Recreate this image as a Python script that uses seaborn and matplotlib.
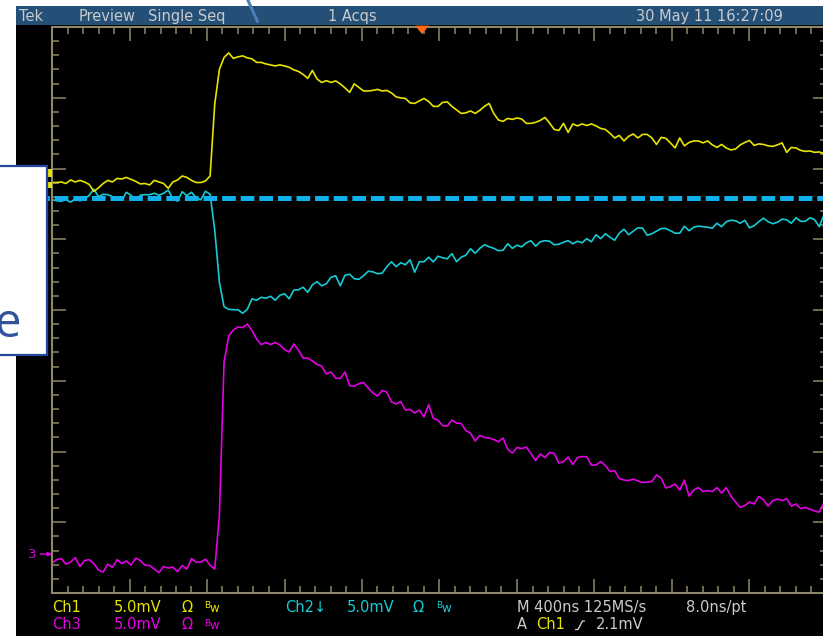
import numpy as np
import pandas as pd
import matplotlib
matplotlib.use("Agg")
import matplotlib.pyplot as plt
from matplotlib.lines import Line2D
from matplotlib.patches import Rectangle, Polygon
from matplotlib.ticker import MultipleLocator
import seaborn as sns

# ---------------------------------------------------------------------------
# Acquisition settings
# ---------------------------------------------------------------------------
TIME_PER_DIV_NS = 400          # M 400ns
MV_PER_DIV = 5.0               # 5.0 mV/div on every channel
SAMPLE_NS = 24                 # one plotted point every 3rd record point (8 ns/pt)
trigger_pos_ns = 1910          # horizontal position marker

# channel ground positions, in divisions from screen centre
ch1_pos_div = 1.81
ch2_pos_div = 1.58
ch3_pos_div = -3.45

# ---------------------------------------------------------------------------
# Waveforms (mV relative to each channel's ground)
# ---------------------------------------------------------------------------
ch1_mv = [
    -0.04, -0.04, 0.00, -0.11, 0.14, 0.00, 0.11, 0.00, -0.18, -0.67,
    -0.42, -0.11, 0.11, 0.00, 0.25, 0.21, 0.32, 0.18, 0.04, -0.14,
    -0.11, -0.21, 0.11, 0.00, -0.11, -0.45, 0.00, 0.14, 0.42, 0.32,
    0.11, -0.04, -0.04, 0.07, 0.42, 5.51, 7.95, 8.80, 9.12, 8.73,
    8.84, 8.91, 8.77, 8.70, 8.45, 8.45, 8.34, 8.27, 8.20, 8.27,
    8.20, 8.10, 7.92, 7.81, 7.60, 7.32, 7.88, 7.28, 7.03, 7.16,
    7.03, 7.14, 6.93, 6.65, 6.33, 6.93, 6.68, 6.43, 6.43, 6.47,
    6.54, 6.43, 6.47, 6.29, 6.01, 5.94, 5.90, 5.59, 5.55, 5.73,
    5.90, 5.69, 5.34, 5.34, 5.62, 5.66, 5.34, 5.09, 4.84, 4.88,
    5.02, 4.84, 5.06, 5.34, 5.55, 4.84, 4.38, 4.28, 4.49, 4.42,
    4.52, 4.45, 4.14, 4.14, 4.21, 4.35, 4.56, 4.17, 3.71, 3.64,
    4.14, 3.50, 4.10, 3.96, 4.10, 3.99, 4.10, 3.96, 3.78, 3.71,
    3.44, 3.11, 3.29, 2.90, 3.22, 3.39, 3.11, 3.36, 3.36, 3.11,
    2.65, 3.15, 3.08, 2.76, 2.40, 3.11, 2.55, 2.79, 2.90, 2.90,
    2.76, 2.90, 2.62, 2.44, 2.65, 2.40, 2.26, 2.33, 2.62, 2.79,
    2.93, 2.58, 2.69, 2.65, 2.55, 2.51, 2.62, 2.76, 2.09, 2.44,
    2.40, 2.23, 2.16, 2.19, 2.09, 2.12, 2.01,
]
ch2_mv = [
    -0.11, -0.18, -0.21, -0.11, -0.28, -0.04, -0.18, -0.07, 0.21, 0.64,
    0.11, 0.28, 0.25, 0.11, -0.14, -0.14, 0.42, 0.21, -0.14, 0.21,
    0.25, 0.25, 0.35, 0.21, 0.35, 0.57, -0.04, -0.21, 0.46, 0.18,
    0.42, 0.04, -0.11, 0.49, 0.28, -2.26, -5.94, -7.67, -7.85, -7.88,
    -7.88, -8.13, -7.85, -7.11, -7.21, -7.00, -7.07, -6.93, -7.21, -6.86,
    -6.75, -7.11, -6.50, -6.47, -6.29, -6.65, -6.12, -5.90, -6.19, -6.04,
    -5.59, -5.48, -6.19, -5.44, -5.37, -5.69, -5.73, -5.48, -5.16, -5.20,
    -5.34, -5.30, -4.84, -4.49, -4.84, -4.56, -4.70, -4.35, -5.23, -4.49,
    -4.49, -4.17, -4.50, -4.10, -4.21, -4.28, -3.92, -4.49, -4.17, -4.03,
    -3.57, -3.89, -3.54, -3.29, -3.43, -3.54, -3.71, -3.68, -3.22, -3.54,
    -3.32, -3.44, -3.15, -3.00, -3.39, -3.08, -3.00, -3.04, -3.29, -3.25,
    -3.11, -3.00, -3.22, -3.04, -3.15, -2.86, -3.08, -2.58, -2.86, -2.51,
    -2.76, -2.97, -2.47, -2.19, -2.58, -2.33, -2.09, -2.12, -2.62, -2.51,
    -2.33, -2.14, -2.14, -2.30, -2.47, -2.47, -1.98, -2.30, -2.05, -1.98,
    -2.01, -2.05, -2.12, -1.77, -2.01, -1.66, -1.56, -1.59, -1.77, -1.56,
    -2.09, -1.94, -1.66, -1.41, -1.66, -1.80, -1.70, -1.48, -1.52, -1.77,
    -1.38, -1.63, -1.63, -1.38, -1.52, -2.01, -1.20,
]
ch3_mv = [
    -0.64, -0.39, -0.32, -0.71, -0.57, -0.25, -0.88, -0.46, -0.39, -0.67,
    -1.13, -1.27, -0.71, -0.95, -0.39, -0.66, -0.49, -0.78, -0.28, -0.46,
    -0.78, -0.81, -1.06, -1.31, -0.88, -0.99, -0.92, -1.24, -0.81, -1.06,
    -0.32, -0.57, -0.57, -0.35, -0.78, -1.06, 2.76, 13.57, 15.41, 15.84,
    16.05, 16.01, 16.26, 15.80, 15.20, 14.81, 14.95, 14.81, 14.95, 14.78,
    14.46, 14.28, 14.85, 14.42, 13.86, 13.84, 13.65, 13.40, 13.29, 12.73,
    12.87, 12.44, 12.41, 12.87, 11.91, 11.86, 12.05, 12.12, 11.74, 11.38,
    11.17, 11.56, 11.45, 10.75, 10.61, 10.78, 10.18, 10.23, 9.97, 10.18,
    9.69, 10.57, 9.59, 9.47, 9.08, 9.05, 9.47, 9.26, 9.23, 8.73,
    8.55, 7.99, 8.39, 8.24, 8.20, 8.10, 7.94, 8.20, 7.42, 7.14,
    7.53, 7.46, 7.56, 7.11, 6.61, 7.07, 6.82, 7.18, 7.11, 6.43,
    6.54, 6.86, 6.33, 6.82, 6.89, 6.88, 6.29, 6.29, 6.54, 6.26,
    5.83, 5.90, 5.34, 5.23, 5.20, 5.30, 5.16, 5.06, 5.09, 5.13,
    5.59, 5.37, 4.67, 4.77, 4.95, 4.52, 5.23, 4.10, 4.52, 4.70,
    4.42, 4.49, 4.42, 4.70, 4.31, 4.70, 4.10, 3.68, 3.30, 3.43,
    3.68, 3.54, 4.07, 3.85, 3.39, 3.78, 3.89, 3.78, 3.92, 3.39,
    3.54, 3.22, 3.29, 3.18, 3.04, 2.97, 3.64,
]

channel_names = ["Ch3", "Ch2", "Ch1"]
channel_colors = {"Ch1": "#e6e400", "Ch2": "#16ccd4", "Ch3": "#e400e4"}
GRATICULE = "#8f8769"
TEXT_GREY = "#c9cbcd"
BAR_BLUE = "#244f77"
REF_BLUE = "#0fb0ec"
NOTE_BLUE = "#23479c"

# ---------------------------------------------------------------------------
# Figure in pixel units
# ---------------------------------------------------------------------------
W, H = 823, 636
sns.set_theme(style="dark")
plt.rcParams["font.family"] = ["DejaVu Sans"]

fig = plt.figure(figsize=(W / 100, H / 100), dpi=100, facecolor="white")


def fx(x):
    return x / W


def fy(y):
    return 1 - y / H


# screen background and status bar
fig.add_artist(Rectangle((fx(16), 0), 1 - fx(16), fy(6), transform=fig.transFigure,
                         facecolor="black", edgecolor="none", zorder=-10))
fig.add_artist(Rectangle((fx(16), fy(25)), 1 - fx(16), fy(6) - fy(25),
                         transform=fig.transFigure, facecolor=BAR_BLUE,
                         edgecolor="none", zorder=-9))

ax = fig.add_axes([fx(52), fy(593), (827 - 52) / W, (593 - 27) / H])
ax.set_facecolor("black")

# ---------------------------------------------------------------------------
# Traces
# ---------------------------------------------------------------------------
series = {"Ch1": (ch1_mv, ch1_pos_div), "Ch2": (ch2_mv, ch2_pos_div),
          "Ch3": (ch3_mv, ch3_pos_div)}
frames = []
for name in channel_names:
    mv, pos = series[name]
    mv = np.asarray(mv, dtype=float)
    frames.append(pd.DataFrame({
        "time_ns": np.arange(len(mv)) * SAMPLE_NS,
        "level_div": pos + mv / MV_PER_DIV,
        "channel": name,
    }))
df = pd.concat(frames, ignore_index=True)

sns.lineplot(data=df, x="time_ns", y="level_div", hue="channel",
             hue_order=channel_names, palette=channel_colors, estimator=None,
             sort=False, legend=False, linewidth=1.2, ax=ax)

ax.set_xlim(0, 10 * TIME_PER_DIV_NS)
ax.set_ylim(-4, 4)
ax.set_xlabel("")
ax.set_ylabel("")
ax.grid(False)
ax.xaxis.set_major_locator(MultipleLocator(TIME_PER_DIV_NS))
ax.xaxis.set_minor_locator(MultipleLocator(TIME_PER_DIV_NS / 5))
ax.yaxis.set_major_locator(MultipleLocator(1))
ax.yaxis.set_minor_locator(MultipleLocator(0.2))
ax.tick_params(which="both", direction="in", top=True, right=True, bottom=True,
               left=True, labelbottom=False, labelleft=False, color=GRATICULE,
               width=1.1)
ax.tick_params(which="major", length=10)
ax.tick_params(which="minor", length=5)
for sp in ax.spines.values():
    sp.set_visible(True)
    sp.set_color(GRATICULE)
    sp.set_linewidth(1.5)

# dashed reference line at the Ch2 baseline
ax.axhline(ch2_pos_div, xmin=(17 - 52) / 775, xmax=1, color=REF_BLUE, lw=3.6,
           linestyle=(0, (2.74, 0.98)), clip_on=False, zorder=5)

# horizontal position marker
ax.add_patch(Polygon([[trigger_pos_ns - 36, 4.02], [trigger_pos_ns + 36, 4.02],
                      [trigger_pos_ns, 3.9]], closed=True, facecolor="#ff6a1a",
                     edgecolor="none", clip_on=False, zorder=6))

# Ch3 ground marker
ax.annotate("", xy=(0, ch3_pos_div), xycoords=("axes fraction", "data"),
            xytext=(-8.6, 0), textcoords="offset points",
            arrowprops=dict(arrowstyle="-|>", color=channel_colors["Ch3"], lw=1.0,
                            mutation_scale=6, shrinkA=0, shrinkB=0),
            annotation_clip=False)
ax.annotate("3", xy=(0, ch3_pos_div), xycoords=("axes fraction", "data"),
            xytext=(-11.3, 0), textcoords="offset points", ha="right", va="center",
            color=channel_colors["Ch3"], fontsize=9.5, annotation_clip=False)

# Ch1 ground marker (mostly behind the note box)
for y0, y1 in [(169.3, 176.7), (181.7, 188.3)]:
    fig.add_artist(Rectangle((fx(47.5), fy(y1)), fx(52.3) - fx(47.5), fy(y0) - fy(y1),
                             transform=fig.transFigure, facecolor=channel_colors["Ch1"],
                             edgecolor="none", zorder=4))

# ---------------------------------------------------------------------------
# Status and readout text
# ---------------------------------------------------------------------------
def px_text(x, y, s, color=TEXT_GREY, size=10.5, **kw):
    fig.text(fx(x), fy(y), s, color=color, fontsize=size, ha="left",
             va="baseline", **kw)


px_text(19, 20.7, "Tek")
px_text(79, 20.7, "Preview")
px_text(148, 20.7, "Single Seq")
px_text(328, 20.7, "1 Acqs")
px_text(636, 20.7, "30 May 11 16:27:09")

row1, row2 = 611.7, 629.3
y1c, c2c, c3c = channel_colors["Ch1"], channel_colors["Ch2"], channel_colors["Ch3"]


def bw(x, base, color):
    px_text(x, base - 3.6, "B", color, size=6.5)
    px_text(x + 5.4, base, "w", color, size=8.5)


px_text(52.5, row1, "Ch1", y1c)
px_text(114, row1, "5.0mV", y1c)
px_text(181, row1, "\u03a9", y1c)
bw(204, row1, y1c)
px_text(285, row1, "Ch2\u2193", c2c)
px_text(346.5, row1, "5.0mV", c2c)
px_text(412.5, row1, "\u03a9", c2c)
bw(436.5, row1, c2c)
px_text(517, row1, "M 400ns 125MS/s")
px_text(686, row1, "8.0ns/pt")

px_text(52.5, row2, "Ch3", c3c)
px_text(114, row2, "5.0mV", c3c)
px_text(181, row2, "\u03a9", c3c)
bw(204, row2, c3c)
px_text(517, row2, "A")
px_text(536, row2, "Ch1", y1c)
fig.add_artist(Line2D([fx(575.5), fx(578), fx(582.5), fx(584.5)],
                      [fy(629.5), fy(629.5), fy(621), fy(621)],
                      transform=fig.transFigure, color=TEXT_GREY, lw=1.0, zorder=4))
px_text(596, row2, "2.1mV")

# ---------------------------------------------------------------------------
# Overlaid callouts
# ---------------------------------------------------------------------------
fig.add_artist(Rectangle((fx(-6), fy(354.5)), fx(46.5) - fx(-6), fy(166) - fy(354.5),
                         transform=fig.transFigure, facecolor="white",
                         edgecolor=NOTE_BLUE, lw=1.6, zorder=7))
fig.text(fx(21), fy(324), "e", color="#2f529a", fontsize=34, ha="right",
         va="center", family=["Open Sans", "DejaVu Sans"], zorder=8)
fig.add_artist(Line2D([fx(246.5), fx(257.5)], [fy(-3), fy(21.5)],
                      transform=fig.transFigure, color="#4a7ebb", lw=2.2, zorder=8))

fig.savefig("out.png", dpi=100, facecolor="white")
